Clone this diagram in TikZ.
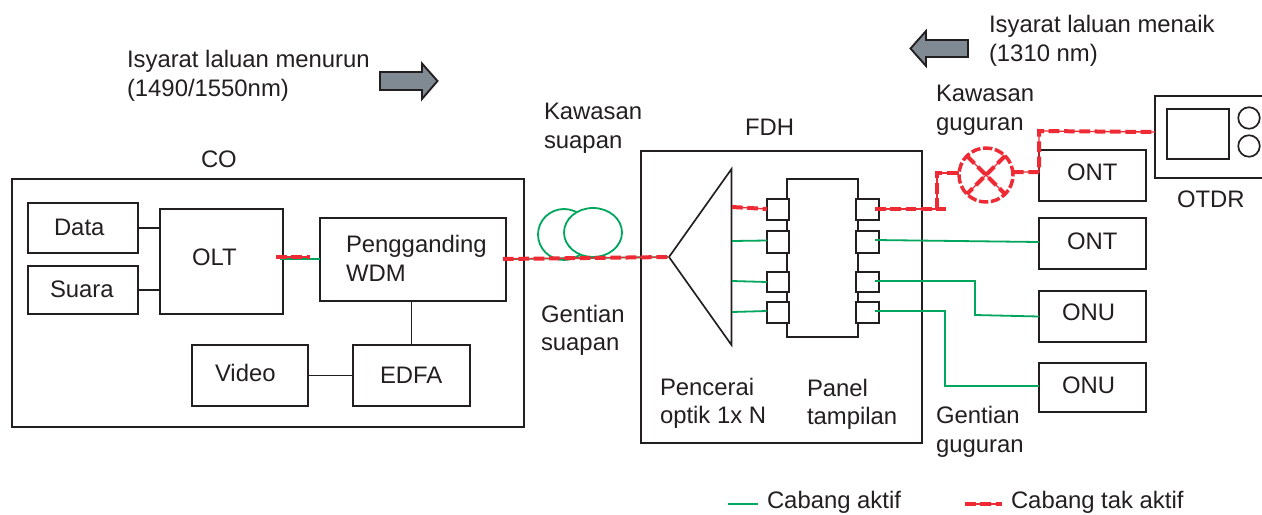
\documentclass[tikz,border=0pt]{standalone}
\usepackage{fontspec}
\setmainfont{Liberation Sans}
\usetikzlibrary{calc}
\definecolor{ink}{HTML}{231F20}
\definecolor{grn}{HTML}{00A65D}
\definecolor{rd}{HTML}{EE2A35}
\definecolor{gry}{HTML}{7F8A93}
\newcommand{\bx}[5]{\node[boxn,minimum width={(#4-#2)*0.75pt},minimum height={(#5-#3)*0.75pt}] (#1) at ({(#2+#4)/2},{(#3+#5)/2}) {};}
\tikzset{
  boxn/.style={draw=ink,line width=1.25pt,fill=white,rectangle,inner sep=0pt,outer sep=0pt},
  txt/.style={anchor=base west,inner sep=0pt,outer sep=0pt,text=ink,font=\fontsize{17.9}{21}\selectfont},
  blk/.style={draw=ink,line width=1.25pt},
  grnl/.style={draw=grn,line width=1.35pt},
  redl/.style={draw=rd,line width=1pt,postaction={draw=rd,line width=3pt,dash pattern=on 8pt off 3.5pt}},
  arw/.style={draw=ink,line width=1.4pt,fill=gry,line join=miter}
}
\begin{document}
\begin{tikzpicture}[x=0.75pt,y=-0.75pt]
\useasboundingbox[fill=white] (0,0) rectangle (1262,514);
% containers
\bx{co}{12}{179}{524}{427}
\bx{fdh}{641}{151}{922}{443}
% CO boxes
\bx{data}{28}{203}{138}{253}
\bx{suara}{28}{266}{138}{314}
\bx{olt}{160}{209}{283}{314}
\bx{wdm}{320}{218}{506}{301}
\bx{video}{192}{345}{308}{406}
\bx{edfa}{353}{345}{470}{406}
\draw[blk] (data.east) -- (data.east -| olt.west);
\draw[blk] (suara.east) -- (suara.east -| olt.west);
\draw[blk] (video.east) -- (video.east -| edfa.west);
\draw[blk] (edfa.north) -- (edfa.north |- wdm.south);
% fibre loops
\draw[grnl] (564,234.5) ellipse [x radius=26,y radius=25.5];
\draw[grnl,fill=white] (593,232.5) ellipse [x radius=29,y radius=24.5];
% splitter
\coordinate (apex) at (669,257);
\coordinate (ttop) at (731.5,169);
\coordinate (tbot) at (731.5,345);
\draw[blk,line join=miter] (apex) -- (ttop) -- (tbot) -- cycle;
% panel and ports
\bx{panel}{787}{179}{858}{337}
\bx{la}{767}{199}{789}{220}
\bx{lb}{767}{231}{789}{253}
\bx{lc}{767}{272}{789}{292}
\bx{ld}{767}{302}{789}{323}
\bx{ra}{856}{199}{879}{220}
\bx{rb}{856}{231}{879}{253}
\bx{rc}{856}{272}{879}{292}
\bx{rd}{856}{302}{879}{323}
% ONT / ONU
\bx{onta}{1039}{150}{1146}{201}
\bx{ontb}{1039}{218}{1146}{269}
\bx{onua}{1039}{291}{1146}{342}
\bx{onub}{1039}{363}{1146}{412}
% OTDR
\coordinate (otdrw) at (1155,132);
\draw[blk] (1262,96) -- (1155,96) -- (1155,178) -- (1262,178);
\node[boxn,minimum width={62*0.75pt},minimum height={50*0.75pt}] (screen) at (1198,134) {};
\node[boxn,circle,minimum size={21.5*0.75pt}] (knoba) at (1249,118) {};
\node[boxn,circle,minimum size={21.5*0.75pt}] (knobb) at (1249,146) {};
% green links
\coordinate (ga) at (732,241); \coordinate (gb) at (732,281); \coordinate (gc) at (732,312);
\draw[grnl] (ga) -- (767,240.5);
\draw[grnl] (gb) -- (lc.west);
\draw[grnl] (gc) -- (767,311);
\coordinate (pb) at (875,240); \coordinate (pc) at (875,281); \coordinate (pd) at (875,311);
\draw[grnl] (pb) -- (ontb.west |- 0,242);
\draw[grnl] (pc) -- (975,281) -- (975,315) -- (onua.west);
\draw[grnl] (pd) -- (945,311) -- (945,386) -- (onub.west |- 0,386);
\draw[grnl] (280,259) -- (wdm.west |- 0,259);
\draw[grnl] (506,259) -- (apex);
% red links
\draw[redl] (276,257) -- (310,257);
\draw[redl] (503,259) -- (apex);
\draw[redl] (732,207) -- (767,209);
% coupler
\node[draw=rd,line width=2.6pt,dash pattern=on 7pt off 2pt,circle,minimum size={54*0.75pt},inner sep=0pt,outer sep=0pt] (cpl) at (986,175) {};
\draw[redl] (cpl.45) -- (cpl.225);
\draw[redl] (cpl.135) -- (cpl.315);
\coordinate (pa) at (875,209);
\draw[redl] (pa) -- (946,209);
\draw[redl] (937,209) -- (937,173) -- (cpl.west |- 0,173);
\draw[redl] (cpl.east |- 0,172) -- (1039,172) -- (1039,131) -- (otdrw);
% arrows
\draw[arw] (380,72) -- (422,72) -- (422,63.5) -- (437.5,81) -- (422,99) -- (422,90) -- (380,90) -- cycle;
\draw[arw] (968,40) -- (926,40) -- (926,31) -- (910.5,48.5) -- (926,66) -- (926,57) -- (968,57) -- cycle;
% legend
\coordinate (lga) at (728,504); \coordinate (lgb) at (758,504);
\coordinate (lra) at (965,504); \coordinate (lrb) at (1002,504);
\draw[grnl] (lga) -- (lgb);
\draw[redl] (lra) -- (lrb);
% texts
\node[txt] (t1) at (127,67) {Isyarat laluan menurun};
\node[txt] (t2) at (127,96) {(1490/1550nm)};
\node[txt] (t3) at (989,32.5) {Isyarat laluan menaik};
\node[txt] (t4) at (989,61) {(1310 nm)};
\node[txt] (t5) at (544,119) {Kawasan};
\node[txt] (t6) at (544,148) {suapan};
\node[txt] (t7) at (936,101) {Kawasan};
\node[txt] (t8) at (936,130) {guguran};
\node[txt] (t9) at (745,135) {FDH};
\node[txt] (t10) at (201,167) {CO};
\node[txt] (t11) at (1177,207) {OTDR};
\node[txt] (t12) at (541,322) {Gentian};
\node[txt] (t13) at (541,350) {suapan};
\node[txt] (t14) at (660,395) {Pencerai};
\node[txt] (t15) at (660,423) {optik 1x N};
\node[txt] (t16) at (807,396) {Panel};
\node[txt] (t17) at (807,424) {tampilan};
\node[txt] (t18) at (936,423) {Gentian};
\node[txt] (t19) at (936,452) {guguran};
\node[txt] (t20) at (767,508) {Cabang aktif};
\node[txt] (t21) at (1011,508) {Cabang tak aktif};
\node[txt] (t22) at (54,235) {Data};
\node[txt] (t23) at (50,297) {Suara};
\node[txt] (t24) at (192,265) {OLT};
\node[txt] (t25) at (346,252) {Pengganding};
\node[txt] (t26) at (346,281) {WDM};
\node[txt] (t27) at (215,381) {Video};
\node[txt] (t28) at (380,383) {EDFA};
\node[txt] (t29) at (1067,180) {ONT};
\node[txt] (t30) at (1067,249) {ONT};
\node[txt] (t31) at (1062,320) {ONU};
\node[txt] (t32) at (1062,393) {ONU};
\end{tikzpicture}
\end{document}
